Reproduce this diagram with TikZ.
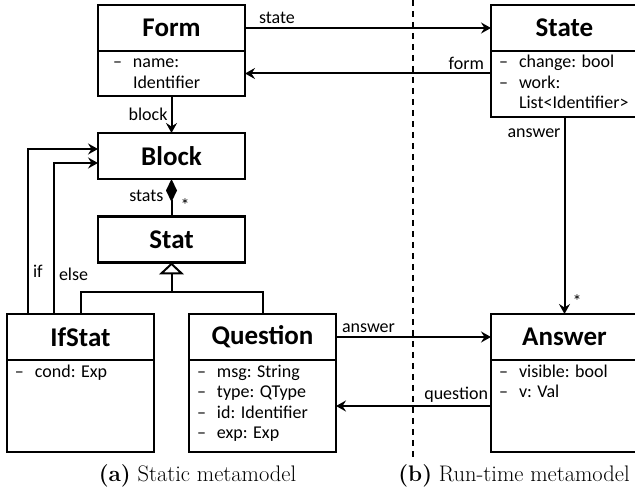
\documentclass[tikz,border=0pt]{standalone}
\usepackage{fontspec}
\setsansfont{Carlito}
\usetikzlibrary{positioning, arrows.meta, calc}

\newcommand{\attrfont}{\sffamily\fontsize{18}{20.5}\selectfont}
\newcommand{\attrs}[3][8pt]{\parbox[c][#2][t]{147pt}{\attrfont\raggedright\leftskip=#1\rule{0pt}{17pt}\ignorespaces#3}}
\newcommand{\at}[1]{\makebox[20pt][l]{--}#1}

\tikzset{
    cls/.style={draw, line width=2.4pt, outer sep=0pt, inner sep=0pt,
        minimum width=147pt, minimum height=46pt, font=\sffamily\bfseries\fontsize{27}{30}\selectfont},
    clsbody/.style={draw, line width=2.4pt, outer sep=0pt, inner sep=0pt, minimum width=147pt},
    lbl/.style={font=\attrfont, inner sep=3pt},
    star/.style={font=\sffamily\fontsize{18}{18}\selectfont, inner sep=1pt},
    assoc/.style={line width=2pt, -{Stealth[length=10pt, width=11pt, inset=3.5pt]}},
    link/.style={line width=2pt}
}

\begin{document}
\begin{tikzpicture}[x=1pt, y=-1pt]
    \useasboundingbox (0,0) rectangle (635,494);

    % Static metamodel
    \node[cls] (form) at (171.5,28) {Form};
    \node[clsbody, below=0pt of form] (formbody) {\attrs[15pt]{45pt}{\at{name:}\\ \hspace*{20pt}Identifier}};
    \node[cls] (block) at (171.5,156) {Block};
    \node[cls] (stat) at (171.5,239.5) {Stat};
    \node[cls] (ifstat) at (80.5,337) {IfStat};
    \node[clsbody, below=0pt of ifstat] (ifstatbody) {\attrs{92pt}{\at{cond: Exp}}};
    \node[cls] (question) at (262.5,337) {Question};
    \node[clsbody, below=0pt of question] (questionbody) {\attrs{92pt}{\at{msg: String}\\ \at{type: QType}\\ \at{id: Identifier}\\ \at{exp: Exp}}};

    % Run-time metamodel
    \node[cls] (state) at (564.5,28) {State};
    \node[clsbody, below=0pt of state] (statebody) {\attrs{66pt}{\at{change: bool}\\ \at{work:}\\ \hspace*{20pt}List<Identifier>}};
    \node[cls] (answer) at (564.5,337) {Answer};
    \node[clsbody, below=0pt of answer] (answerbody) {\attrs{92pt}{\at{visible: bool}\\ \at{v: Val}}};

    % Associations
    \draw[assoc] (form.east) -- (state.west)
        node[lbl, pos=0, anchor=south west, xshift=10pt] {state};
    \draw[assoc] (statebody.west |- formbody.east) -- (formbody.east)
        node[lbl, pos=0, anchor=south east, xshift=-3pt] {form};
    \draw[assoc] (formbody.south) -- (block.north)
        node[lbl, midway, left] {block};
    \draw[assoc] (question.east) -- (answer.west)
        node[lbl, pos=0, anchor=south west, xshift=2pt] {answer};
    \draw[assoc] (answerbody.west) -- (questionbody.east)
        node[lbl, pos=0, anchor=south east, xshift=1pt] {question};
    \draw[assoc] (statebody.south) -- (answer.north)
        node[lbl, pos=0, anchor=north east, yshift=-8pt] {answer}
        node[star, pos=1, anchor=south west, xshift=6pt, yshift=4pt] {*};

    % if / else
    \draw[assoc] ([xshift=-52.5pt]ifstat.north) |- ([yshift=7pt]block.west)
        node[lbl, pos=0.13, right, xshift=1pt] {if};
    \draw[assoc] ([xshift=-26.5pt]ifstat.north) |- ([yshift=-7pt]block.west)
        node[lbl, pos=0.13, right, xshift=1pt] {else};

    % Composition
    \draw[link, {Diamond[length=23pt, width=11pt]}-] (block.south) -- (stat.north)
        node[lbl, pos=0.45, left, xshift=-4pt] {stats}
        node[star, pos=0.55, right, xshift=7pt, yshift=-5pt] {*};

    % Generalization
    \coordinate (gen) at (171.5,292);
    \draw[link] (ifstat.north) -- (ifstat.north |- gen) -- (question.north |- gen) -- (question.north);
    \draw[link, -{Triangle[open, length=12pt, width=25pt, line width=2pt]}] (gen) -- (stat.south);

    % Separator
    \coordinate (septop) at (413,0);
    \coordinate (sepbot) at (413,457);
    \draw[line width=1.8pt, dash pattern=on 6pt off 5pt] (septop) -- (sepbot);

    % Captions
    \node[font=\fontsize{22.5}{26}\selectfont] (capa) at (197.5,476) {\textbf{(a)} Static metamodel};
    \node[font=\fontsize{22.5}{26}\selectfont] (capb) at (514,476) {\textbf{(b)} Run-time metamodel};
\end{tikzpicture}
\end{document}
